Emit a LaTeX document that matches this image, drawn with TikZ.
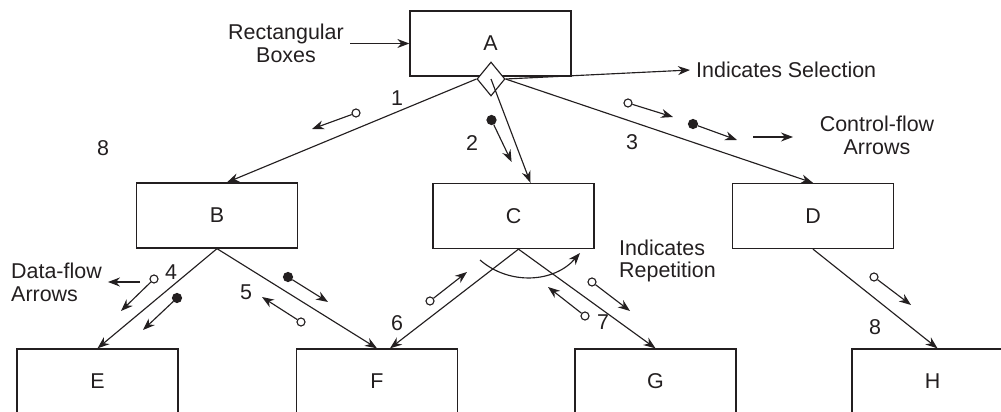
\documentclass[tikz,border=0pt]{standalone}
\usepackage{fontspec}
\setmainfont{Liberation Sans}
\usetikzlibrary{positioning, arrows.meta, shapes.geometric, calc}
\definecolor{myInk}{RGB}{35,31,32}

\begin{document}
\begin{tikzpicture}[
  x=0.02cm, y=-0.02cm,
  every node/.style={font=\fontsize{12.2}{13}\selectfont, text=myInk},
  box/.style={draw=myInk, line width=0.75pt, minimum width=3.22cm, minimum height=1.3cm},
  sel/.style={diamond, draw=myInk, fill=white, line width=0.65pt,
    minimum width=0.56cm, minimum height=0.68cm, inner sep=0pt},
  link/.style={draw=myInk, line width=0.65pt, -{Stealth[length=2.4mm, width=1.8mm]}},
  oc/.style={circle, draw=myInk, fill=white, line width=0.65pt, minimum size=0.16cm, inner sep=0pt},
  fc/.style={oc, fill=myInk, minimum size=0.18cm},
  txt/.style={align=left, anchor=west},
]
  \useasboundingbox (0,0) rectangle (1001,412);
  \clip (0,0) rectangle (1001,412);

  % boxes
  \node[box] (A) at (490.5,43.5) {A};
  \node[box] (B) at (217,215.5) {B};
  \node[box] (C) at (513.5,216) {C};
  \node[box] (D) at (813,216) {D};
  \node[box] (E) at (97.5,381.5) {E};
  \node[box] (F) at (377,381.5) {F};
  \node[box] (G) at (655.5,381.5) {G};
  \node[box] (H) at (932.5,381.5) {H};
  \node[sel] (dm) at (491,79) {};

  % legend texts
  \node[align=center] (rb) at (286,43.5) {Rectangular\\Boxes};
  \node[txt] (isel) at (690,70) {Indicates Selection};
  \node[align=center] (cfl) at (877,135) {Control-flow\\Arrows};
  \node[txt] (dfl) at (5,282) {Data-flow\\Arrows};
  \node[txt] (irep) at (613,261) {Indicates\\Repetition};

  % tree
  \coordinate (Cs) at ($(C.south)+(5,0)$);
  \draw[link] (dm.west) -- ($(B.north)+(10,0)$);
  \draw[link] (dm.center) -- ($(C.north)+(17,0)$);
  \draw[link] (dm.east) -- (D.north);
  \draw[link] (B.south) -- (E.north);
  \draw[link] (B.south) -- (F.north);
  \draw[link] (Cs) -- ($(F.north)+(13,0)$);
  \draw[link] (Cs) -- (G.north);
  \draw[link] (D.south) -- ($(H.north)+(5,0)$);

  % legend arrows
  \draw[link] (rb.east) -- (A.west);
  \draw[link] (dm.east) -- (isel.west);
  \coordinate (cf1) at (753,137);
  \coordinate (cf2) at (793,137);
  \draw[link] (cf1) -- (cf2);
  \coordinate (df1) at (140,282);
  \draw[link] (df1) -- (dfl.east);
  \coordinate (rp1) at (480,260);
  \coordinate (rp2) at (580,253);
  \draw[link] (rp1) to[bend right=45] (rp2);

  % numbers
  \node (n1) at (397,98) {1};
  \node (n2) at (472,143) {2};
  \node (n3) at (632,142) {3};
  \node (n4) at (171,272) {4};
  \node (n5) at (246,292) {5};
  \node (n6) at (397,323) {6};
  \node (n7) at (603,322) {7};
  \node (n8) at (875,327) {8};
  \node (n8b) at (103,148) {8};

  % flow markers
  \node[oc] (o1) at (356,113) {};   \coordinate (o1t) at (312,129);
  \node[fc] (f2) at (491.5,120) {}; \coordinate (f2t) at (511.6,162);
  \node[oc] (o3) at (628,103) {};   \coordinate (o3t) at (673,117);
  \node[fc] (f4) at (693,124) {};   \coordinate (f4t) at (737,140);
  \node[oc] (o5) at (154,279) {};   \coordinate (o5t) at (121,311);
  \node[fc] (f6) at (177,298) {};   \coordinate (f6t) at (143,330);
  \node[fc] (f7) at (288,277) {};   \coordinate (f7t) at (328,302);
  \node[oc] (o8) at (301,322) {};   \coordinate (o8t) at (262,297);
  \node[oc] (o9) at (430,301) {};   \coordinate (o9t) at (467,272);
  \node[oc] (o10) at (592,282) {};  \coordinate (o10t) at (630,311);
  \node[oc] (o11) at (585,316) {};  \coordinate (o11t) at (548,287);
  \node[oc] (o12) at (874,277) {};  \coordinate (o12t) at (911,305);
  \draw[link] (o1) -- (o1t);
  \draw[link] (f2) -- (f2t);
  \draw[link] (o3) -- (o3t);
  \draw[link] (f4) -- (f4t);
  \draw[link] (o5) -- (o5t);
  \draw[link] (f6) -- (f6t);
  \draw[link] (f7) -- (f7t);
  \draw[link] (o8) -- (o8t);
  \draw[link] (o9) -- (o9t);
  \draw[link] (o10) -- (o10t);
  \draw[link] (o11) -- (o11t);
  \draw[link] (o12) -- (o12t);
\end{tikzpicture}
\end{document}
